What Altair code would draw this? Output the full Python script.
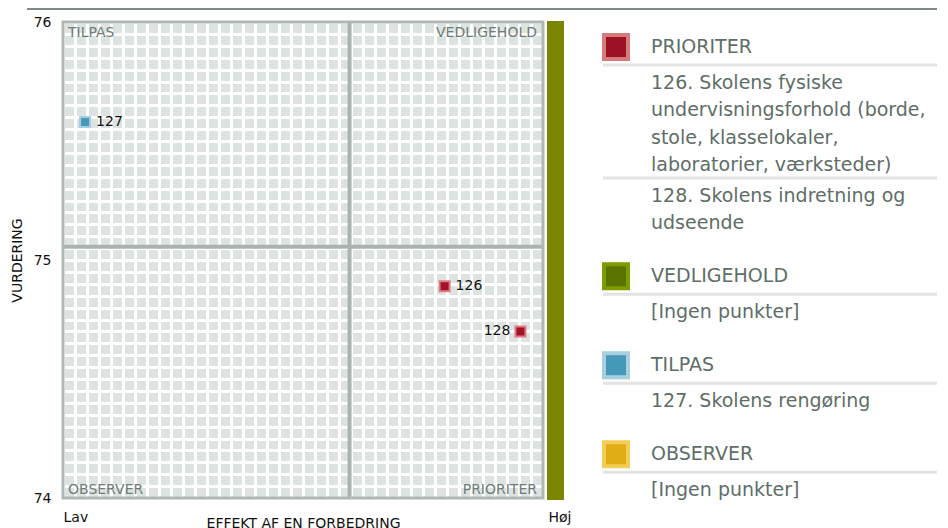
import altair as alt
import pandas as pd

# ---------------- data ----------------
point_ids = [126, 127, 128]
point_effect = [0.795, 0.046, 0.953]
point_rating = [74.89, 75.58, 74.70]
point_quadrant = ["PRIORITER", "TILPAS", "PRIORITER"]
point_label_side = ["right", "right", "left"]

divider_effect = [0.597]
divider_rating = [75.056]

x_domain = [0, 1]
y_domain = [74, 76]
x_tick_labels = ["Lav", "Høj"]
grid_cells = 40

quadrant_names = ["TILPAS", "VEDLIGEHOLD", "OBSERVER", "PRIORITER"]
quadrant_x = [0, 1, 0, 1]
quadrant_y = [76, 76, 74, 74]

legend_groups = ["PRIORITER", "VEDLIGEHOLD", "TILPAS", "OBSERVER"]
legend_fill = ["#9b1227", "#5b7400", "#4499b8", "#e1ad17"]
legend_stroke = ["#d97a7a", "#7e9b00", "#a7cfdd", "#f3cd55"]
point_fill = ["#a01329", "#5b7400", "#4699b9", "#e1ad17"]
point_stroke = ["#e07b83", "#7e9b00", "#a5cedf", "#f3cd55"]
legend_items = [
    [["126. Skolens fysiske", "undervisningsforhold (borde,",
      "stole, klasselokaler,", "laboratorier, værksteder)"],
     ["128. Skolens indretning og", "udseende"]],
    [["[Ingen punkter]"]],
    [["127. Skolens rengøring"]],
    [["[Ingen punkter]"]],
]

# ---------------- main quadrant chart ----------------
W, H = 480, 476
FONT = "DejaVu Sans"
GRID_BG = "#dde3e0"

xgrid = [round(x_domain[0] + (x_domain[1] - x_domain[0]) * i / grid_cells, 6) for i in range(grid_cells + 1)]
ygrid = [round(y_domain[0] + (y_domain[1] - y_domain[0]) * i / grid_cells, 6) for i in range(grid_cells + 1)]

x_axis = alt.Axis(
    values=xgrid, grid=True, gridColor="white", gridWidth=3, gridOpacity=1,
    ticks=False, domain=False,
    labelExpr=f"datum.value == {x_domain[0]} ? '{x_tick_labels[0]}' : (datum.value == {x_domain[1]} ? '{x_tick_labels[1]}' : '')",
    labelFlush=False, labelOverlap=False,
    labelAlign={"condition": {"test": f"datum.value == {x_domain[0]}", "value": "left"}, "value": "right"},
    labelOffset={"condition": {"test": f"datum.value == {x_domain[1]}", "value": 28}, "value": 0},
    labelPadding=12, labelFontSize=14, labelColor="#111111",
    title="EFFEKT AF EN FORBEDRING", titleFontSize=14, titleFontWeight="normal",
    titleColor="#111111", titleY=18, titleBaseline="top",
)
y_axis = alt.Axis(
    values=ygrid, grid=True, gridColor="white", gridWidth=3, gridOpacity=1,
    ticks=False, domain=False,
    labelExpr="abs(datum.value - round(datum.value)) < 0.001 ? format(datum.value, 'd') : ''",
    labelOverlap=False, labelPadding=12, labelFontSize=14, labelColor="#111111",
    title="VURDERING", titleFontSize=14, titleFontWeight="normal",
    titleColor="#111111", titlePadding=9,
)

X = alt.X("x:Q", scale=alt.Scale(domain=x_domain, nice=False, zero=False), axis=x_axis)
Y = alt.Y("y:Q", scale=alt.Scale(domain=y_domain, nice=False, zero=False), axis=y_axis)

points = pd.DataFrame({
    "x": point_effect, "y": point_rating, "id": point_ids,
    "quadrant": point_quadrant, "side": point_label_side,
})
one = pd.DataFrame({"a": [0]})

fill_scale = alt.Scale(domain=legend_groups, range=point_fill)
stroke_scale = alt.Scale(domain=legend_groups, range=point_stroke)

SPACING = 60
LW = 334

vdiv = alt.Chart(pd.DataFrame({"x": divider_effect})).mark_rule(
    color="#aab3af", strokeWidth=4).encode(x=X)
hdiv = alt.Chart(pd.DataFrame({"y": divider_rating})).mark_rule(
    color="#aab3af", strokeWidth=4).encode(y=Y)

border = alt.Chart(one).mark_rect(fillOpacity=0, stroke="#b0b8b4", strokeWidth=3).encode(
    x=alt.value(0), x2=alt.value(W), y=alt.value(0), y2=alt.value(H))

olive_bar = alt.Chart(one).mark_rect(color="#7b8500").encode(
    x=alt.value(W + 4), x2=alt.value(W + 21), y=alt.value(-1), y2=alt.value(H + 2))

top_rule = alt.Chart(one).mark_rule(color="#7f8985", strokeWidth=2).encode(
    x=alt.value(-36), x2=alt.value(W + SPACING + LW), y=alt.value(-13))

pts = alt.Chart(points).mark_square(size=100, filled=True, strokeWidth=2, opacity=1).encode(
    x=X, y=Y,
    fill=alt.Fill("quadrant:N", scale=fill_scale, legend=None),
    stroke=alt.Stroke("quadrant:N", scale=stroke_scale, legend=None),
)
lab_r = alt.Chart(points).transform_filter(alt.datum.side == "right").mark_text(
    align="left", baseline="middle", dx=11, fontSize=14, color="#111111").encode(
    x=X, y=Y, text="id:N")
lab_l = alt.Chart(points).transform_filter(alt.datum.side == "left").mark_text(
    align="right", baseline="middle", dx=-10, fontSize=14, color="#111111").encode(
    x=X, y=Y, text="id:N")

quad_layers = []
for name, qx, qy in zip(quadrant_names, quadrant_x, quadrant_y):
    left = qx == x_domain[0]
    top = qy == y_domain[1]
    quad_layers.append(
        alt.Chart(pd.DataFrame({"x": [qx], "y": [qy], "t": [name]})).mark_text(
            align="left" if left else "right",
            baseline="top" if top else "alphabetic",
            dx=5 if left else -6, dy=4 if top else -4,
            fontSize=14, color="#6f7c77",
        ).encode(x=X, y=Y, text="t:N")
    )

main = alt.layer(vdiv, hdiv, pts, lab_r, lab_l, *quad_layers, border, olive_bar, top_rule).properties(
    width=W, height=H, view=alt.ViewBackground(fill=GRID_BG, strokeWidth=0))

# ---------------- legend panel ----------------
header_rows, text_rows, sep_rows = [], [], []
pos = 25.0
for g, items in zip(legend_groups, legend_items):
    header_rows.append({"group": g, "pos": pos, "t": g})
    last = pos
    for j, lines in enumerate(items):
        sep = pos + 18 if j == 0 else last + 13
        sep_rows.append({"pos": sep})
        line = sep + 18
        for k, t in enumerate(lines):
            text_rows.append({"pos": line + 27.3 * k, "t": t})
        last = line + 27.3 * (len(lines) - 1)
    pos = last + 53

LY = lambda: alt.Y("pos:Q", scale=alt.Scale(domain=[0, H], reverse=True, nice=False, zero=False), axis=None)

leg_sq = alt.Chart(pd.DataFrame(header_rows)).mark_square(
    size=576, filled=True, strokeWidth=4, opacity=1).encode(
    x=alt.value(13), y=LY(),
    fill=alt.Fill("group:N", scale=alt.Scale(domain=legend_groups, range=legend_fill), legend=None),
    stroke=alt.Stroke("group:N", scale=alt.Scale(domain=legend_groups, range=legend_stroke), legend=None),
)
leg_head = alt.Chart(pd.DataFrame(header_rows)).mark_text(
    align="left", baseline="middle", fontSize=19, color="#5e6e67").encode(
    x=alt.value(48), y=LY(), text="t:N")
leg_text = alt.Chart(pd.DataFrame(text_rows)).mark_text(
    align="left", baseline="middle", fontSize=19, color="#5e6e67").encode(
    x=alt.value(48), y=LY(), text="t:N")
leg_sep = alt.Chart(pd.DataFrame(sep_rows)).mark_rule(color="#e3e3e3", strokeWidth=3).encode(
    x=alt.value(0), x2=alt.value(LW), y=LY())

legend = alt.layer(leg_sep, leg_sq, leg_head, leg_text).properties(
    width=LW, height=H, view=alt.ViewBackground(strokeWidth=0))

chart = alt.hconcat(main, legend, spacing=SPACING, bounds="flush").resolve_scale(
    fill="independent", stroke="independent"
).properties(
    padding={"left": 2, "top": 0, "right": 0, "bottom": 0}
).configure(font=FONT)

chart.save("out.html", embed_options={"renderer": "svg", "actions": False})
